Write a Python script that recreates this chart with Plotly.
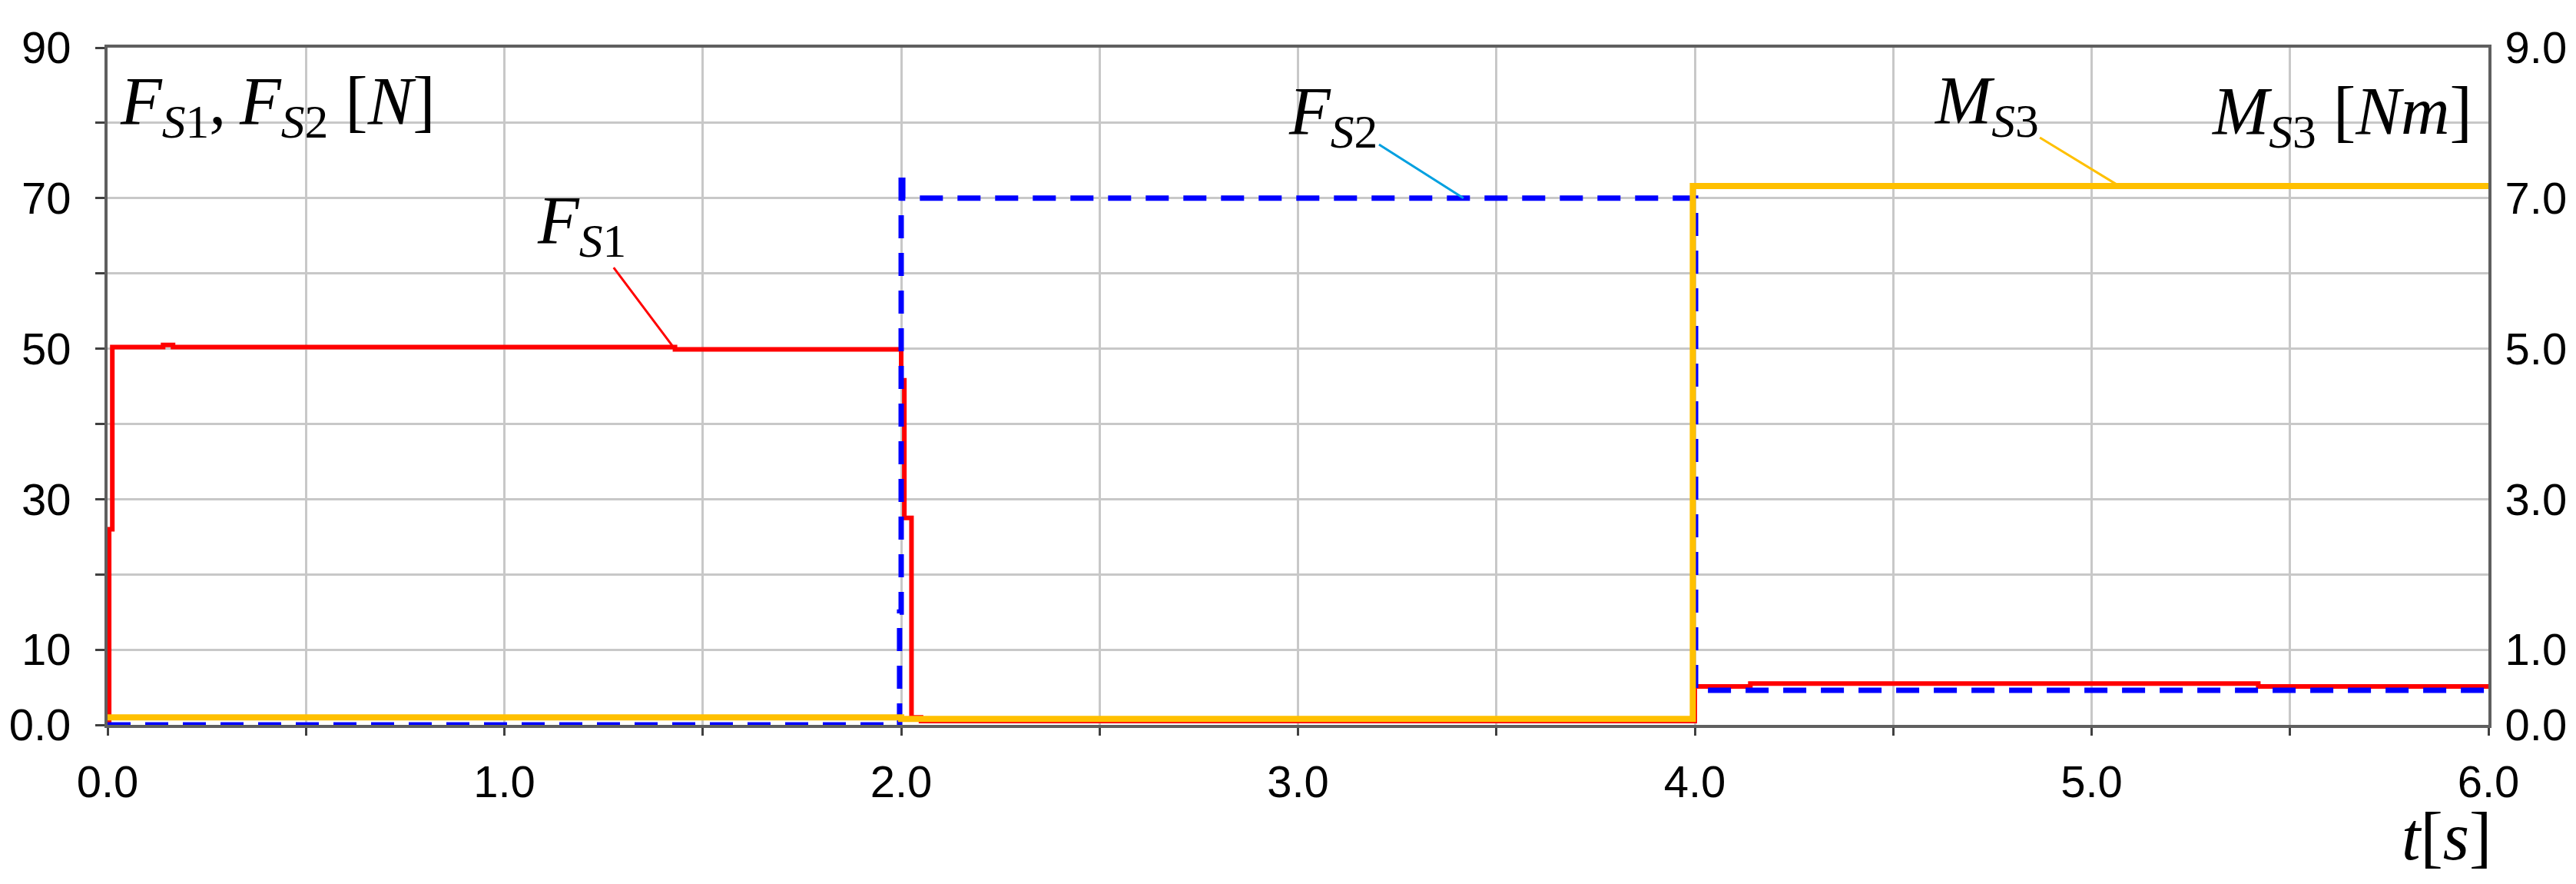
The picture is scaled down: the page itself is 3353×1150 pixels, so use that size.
import plotly.graph_objects as go

# time axis [s] and step values (line_shape="hv": each value holds from its t onward)
t_fs1 = [0, 0.004, 0.012, 0.14, 0.165, 1.43, 2.0, 2.008, 2.026, 2.05, 4.0, 4.14, 5.42, 6.0]
fs1 = [0, 26.0, 50.2, 50.5, 50.2, 49.9, 45.8, 27.5, 1.0, 0.5, 5.1, 5.5, 5.1, 5.1]

t_fs2 = [0, 1.996, 2.0, 2.004, 4.002, 6.0]
fs2 = [0, 15.0, 73.6, 70.0, 4.6, 4.6]

t_ms3 = [0, 2.0, 3.995, 6.0]
ms3 = [0.1, 0.08, 7.16, 7.16]

x_ticks = [0, 0.5, 1, 1.5, 2, 2.5, 3, 3.5, 4, 4.5, 5, 5.5, 6]
x_labels = ["0.0", "", "1.0", "", "2.0", "", "3.0", "", "4.0", "", "5.0", "", "6.0"]
y_ticks = [0, 10, 20, 30, 40, 50, 60, 70, 80, 90]
y_labels = ["0.0", "10", "", "30", "", "50", "", "70", "", "90"]
y2_ticks = [0, 1, 3, 5, 7, 9]
y2_labels = ["0.0", "1.0", "3.0", "5.0", "7.0", "9.0"]

RED = "#ff0000"
BLUE = "#0000ff"
YELLOW = "#ffc000"
MATH = dict(family="Liberation Serif, DejaVu Serif, serif", size=88, color="#000000")

fig = go.Figure()
fig.add_trace(go.Scatter(x=t_ms3, y=ms3, yaxis="y2", mode="lines", line_shape="hv",
                         line=dict(color=YELLOW, width=8), name="M_S3"))
fig.add_trace(go.Scatter(x=t_fs1, y=fs1, mode="lines", line_shape="hv",
                         line=dict(color=RED, width=6), name="F_S1"))
fig.add_trace(go.Scatter(x=t_fs2, y=fs2, mode="lines", line_shape="hv",
                         line=dict(color=BLUE, width=7, dash="30px,19px"), name="F_S2"))

axis_common = dict(showline=True, linecolor="#5f5f5f", linewidth=4, zeroline=False,
                   tickfont=dict(family="Liberation Sans, Arial, sans-serif", size=58, color="#000000"))

fig.update_layout(
    width=3353,
    height=1150,
    margin=dict(l=124, r=105, t=62, b=207),
    paper_bgcolor="#ffffff",
    plot_bgcolor="#ffffff",
    showlegend=False,
    xaxis=dict(range=[0, 6], tickvals=x_ticks, ticktext=x_labels, mirror=True,
               showgrid=True, gridcolor="#c8c8c8", gridwidth=3,
               ticks="outside", ticklen=10, tickwidth=3, tickcolor="#404040",
               ticklabelstandoff=10, **axis_common),
    yaxis=dict(range=[0, 90], tickvals=y_ticks, ticktext=y_labels, mirror=True,
               showgrid=True, gridcolor="#c8c8c8", gridwidth=3,
               ticks="outside", ticklen=12, tickwidth=3, tickcolor="#404040",
               ticklabelstandoff=20, **axis_common),
    yaxis2=dict(range=[0, 9], tickvals=y2_ticks, ticktext=y2_labels, overlaying="y",
                side="right", showgrid=False, ticks="", ticklabelstandoff=6, **axis_common),
)

# axis titles
fig.add_annotation(text="<i>F</i><sub><i>S</i>1</sub>,\u2009<i>F</i><sub><i>S</i>2</sub> [<i>N</i>]",
                   xref="paper", yref="paper", x=0.0045, y=0.914, xanchor="left", yanchor="middle",
                   showarrow=False, font=MATH)
fig.add_annotation(text="<i>M</i><sub><i>S</i>3</sub> [<i>Nm</i>]",
                   xref="paper", yref="paper", x=0.994, y=0.900, xanchor="right", yanchor="middle",
                   showarrow=False, font=MATH)
fig.add_annotation(text="<i>t</i>[<i>s</i>]",
                   xref="paper", yref="paper", x=1.002, y=-0.165, xanchor="right", yanchor="middle",
                   showarrow=False, font=MATH)

# curve labels with leader lines
fig.add_annotation(text="<i>F</i><sub><i>S</i>1</sub>", x=1.426, y=50.2, ax=1.194, ay=66.5,
                   xref="x", yref="y", axref="x", ayref="y", showarrow=True, arrowhead=0,
                   arrowwidth=3, arrowcolor=RED, standoff=0, font=MATH)
fig.add_annotation(text="<i>F</i><sub><i>S</i>2</sub>", x=3.417, y=70, ax=3.089, ay=81.0,
                   xref="x", yref="y", axref="x", ayref="y", showarrow=True, arrowhead=0,
                   arrowwidth=3, arrowcolor="#00a0e0", standoff=0, font=MATH)
fig.add_annotation(text="<i>M</i><sub><i>S</i>3</sub>", x=5.07, y=7.16, ax=4.734, ay=8.24,
                   xref="x", yref="y2", axref="x", ayref="y2", showarrow=True, arrowhead=0,
                   arrowwidth=3, arrowcolor=YELLOW, standoff=0, font=MATH)

fig.write_html("out.html", config={"displayModeBar": False},
               post_script="document.body.style.margin='0';")
